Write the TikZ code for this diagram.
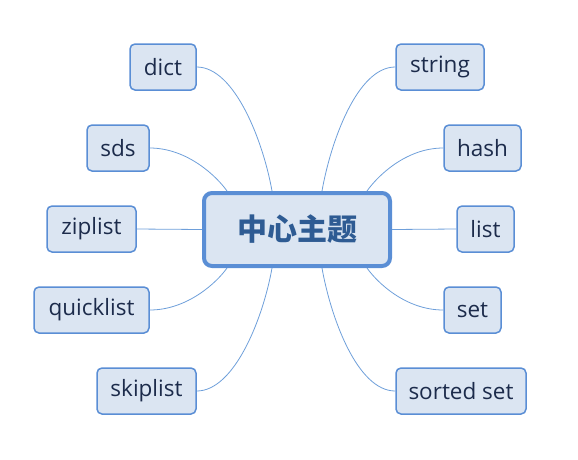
\documentclass[tikz,border=0pt]{standalone}
\usepackage{fontspec}
\setmainfont{Open Sans}
\newfontfamily\cjk{Noto Sans CJK SC}
\definecolor{bordercol}{HTML}{5A8ED5}
\definecolor{fillcol}{HTML}{DBE5F2}
\definecolor{txtcol}{HTML}{1C2B4B}
\definecolor{maincol}{HTML}{2E5B93}
\definecolor{linecol}{HTML}{6E9FDA}
\begin{document}
\begin{tikzpicture}[x=1pt,y=-1pt,
  child/.style={draw=bordercol, fill=fillcol, line width=1.5pt, rounded corners=5pt,
    minimum height=46pt, inner sep=0pt, text=txtcol,
    font=\fontsize{22.5}{26}\selectfont},
  center/.style={draw=bordercol, fill=fillcol, line width=4pt, rounded corners=8pt,
    minimum width=186pt, minimum height=73pt, inner sep=0pt, text=maincol,
    font=\cjk\bfseries\fontsize{30}{32}\selectfont},
  conn/.style={draw=linecol, line width=0.8pt}]
\useasboundingbox (0,0) rectangle (578,459);
\node[center] (c) at (297,229.5) {中心主题};
\node[child, minimum width=66pt] (dict) at (163,67) {dict};
\node[child, minimum width=62pt] (sds) at (118,148) {sds};
\node[child, minimum width=89pt] (zip) at (91.5,229) {ziplist};
\node[child, minimum width=115pt] (quick) at (91.5,310) {quicklist};
\node[child, minimum width=99pt] (skip) at (146.5,391) {skiplist};
\node[child, minimum width=88pt] (str) at (440,67) {string};
\node[child, minimum width=77pt] (hash) at (482.5,148) {hash};
\node[child, minimum width=57pt] (list) at (485.5,229) {list};
\node[child, minimum width=57pt] (set) at (472.5,310) {set};
\node[child, minimum width=130pt] (sset) at (461,391) {sorted set};
\coordinate (t1) at ([xshift=-70pt]c.north);
\coordinate (t2) at ([xshift=-25pt]c.north);
\coordinate (t3) at ([xshift=25pt]c.north);
\coordinate (t4) at ([xshift=70pt]c.north);
\coordinate (b1) at ([xshift=-70pt]c.south);
\coordinate (b2) at ([xshift=-25pt]c.south);
\coordinate (b3) at ([xshift=25pt]c.south);
\coordinate (b4) at ([xshift=70pt]c.south);
\draw[conn] (dict.east) to[out=0,in=100,out distance=38pt,in distance=50pt] (t2);
\draw[conn] (sds.east) to[out=0,in=125,out distance=38pt,in distance=17pt] (t1);
\draw[conn] (str.west) to[out=180,in=80,out distance=38pt,in distance=50pt] (t3);
\draw[conn] (hash.west) to[out=180,in=55,out distance=38pt,in distance=17pt] (t4);
\draw[conn] (quick.east) to[out=0,in=235,out distance=38pt,in distance=17pt] (b1);
\draw[conn] (skip.east) to[out=0,in=260,out distance=38pt,in distance=50pt] (b2);
\draw[conn] (sset.west) to[out=180,in=280,out distance=38pt,in distance=50pt] (b3);
\draw[conn] (set.west) to[out=180,in=305,out distance=38pt,in distance=17pt] (b4);
\draw[conn] (zip.east) -- (c.west);
\draw[conn] (c.east) -- (list.west);
\end{tikzpicture}
\end{document}
